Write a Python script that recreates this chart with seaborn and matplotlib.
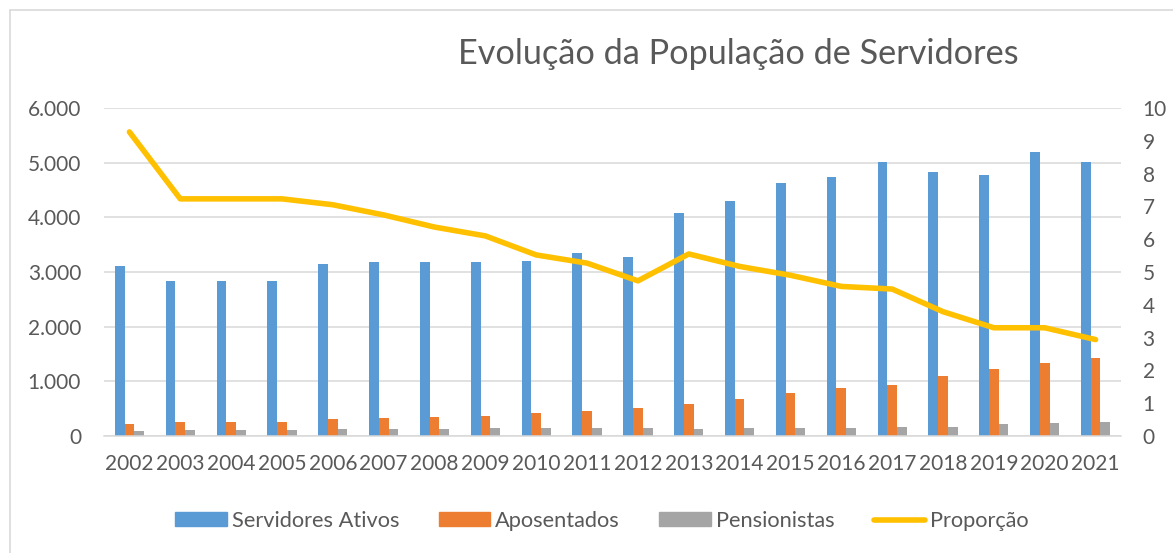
import numpy as np
import pandas as pd
import matplotlib
matplotlib.use("Agg")
import matplotlib.pyplot as plt
import seaborn as sns
from matplotlib.patches import Patch
from matplotlib.lines import Line2D
from matplotlib.ticker import FuncFormatter, MultipleLocator

anos = [str(a) for a in range(2002, 2022)]
servidores_ativos = [3110, 2835, 2835, 2835, 3145, 3190, 3180, 3180, 3205, 3350,
                     3275, 4085, 4290, 4620, 4730, 5020, 4830, 4770, 5195, 5005]
aposentados = [228, 262, 262, 262, 305, 330, 342, 360, 415, 463,
               519, 580, 672, 782, 879, 940, 1099, 1221, 1331, 1434]
pensionistas = [92, 110, 110, 110, 128, 130, 135, 140, 140, 150,
                150, 135, 140, 146, 146, 158, 171, 213, 232, 250]
proporcao = [9.27, 7.23, 7.23, 7.23, 7.05, 6.74, 6.37, 6.10, 5.52, 5.27,
             4.73, 5.55, 5.17, 4.90, 4.56, 4.48, 3.79, 3.30, 3.30, 2.94]
series = ["Servidores Ativos", "Aposentados", "Pensionistas"]
titulo = "Evolução da População de Servidores"

cores = {"Servidores Ativos": "#5B9BD5", "Aposentados": "#ED7D31", "Pensionistas": "#A5A5A5"}
cor_linha = "#FFC000"
cor_texto = "#595959"
cor_grade = "#D9D9D9"

sns.set_theme(style="white")
plt.rcParams["font.family"] = ["Lato", "DejaVu Sans"]

df = pd.DataFrame({
    "Ano": anos * 3,
    "Valor": servidores_ativos + aposentados + pensionistas,
    "Série": [s for s in series for _ in anos],
})

W, H = 1173, 553
fig = plt.figure(figsize=(W / 100, H / 100), dpi=100)
ax = fig.add_axes([104 / W, 1 - 436 / H, (1121 - 104) / W, (436 - 108) / H])

sns.barplot(data=df, x="Ano", y="Valor", hue="Série", palette=cores,
            width=0.575, gap=0, ax=ax, legend=False, linewidth=0, saturation=1)

tick_fs = 15
ax.set_xlim(-0.5, len(anos) - 0.5)
ax.set_ylim(0, 6000)
ax.yaxis.set_major_locator(MultipleLocator(1000))
ax.yaxis.set_major_formatter(FuncFormatter(lambda v, p: f"{int(v):,}".replace(",", ".")))
ax.set_axisbelow(True)
ax.grid(axis="y", color=cor_grade, lw=1.1)
ax.set_xlabel("")
ax.set_ylabel("")
for s in ["top", "right", "left"]:
    ax.spines[s].set_visible(False)
ax.spines["bottom"].set_color(cor_grade)
ax.spines["bottom"].set_linewidth(1.1)
ax.tick_params(axis="y", length=0, pad=16.5, labelsize=tick_fs, labelcolor=cor_texto)
ax.tick_params(axis="x", length=0, pad=13, labelsize=tick_fs, labelcolor=cor_texto)

ax2 = ax.twinx()
sns.lineplot(x=np.arange(len(anos)), y=proporcao, ax=ax2, color=cor_linha, lw=4,
             solid_capstyle="round", solid_joinstyle="round")
ax2.set_xlim(-0.5, len(anos) - 0.5)
ax2.set_ylim(0, 10)
ax2.yaxis.set_major_locator(MultipleLocator(1))
for s in ["top", "right", "left", "bottom"]:
    ax2.spines[s].set_visible(False)
ax2.tick_params(axis="y", length=0, pad=15.5, labelsize=tick_fs, labelcolor=cor_texto)
ax2.set_ylabel("")

fig.text(738 / W, 1 - 64 / H, titulo, ha="center", va="baseline",
         fontsize=24.7, color=cor_texto)

handles = [Patch(color=cores[s], label=s) for s in series]
handles.append(Line2D([0], [0], color=cor_linha, lw=4, label="Proporção",
                      solid_capstyle="round"))
fig.legend(handles=handles, loc="center", bbox_to_anchor=(602 / W, 1 - 521 / H),
           ncol=4, frameon=False, fontsize=15.7, labelcolor=cor_texto,
           handlelength=2.36, handleheight=0.61, handletextpad=0.23,
           columnspacing=1.81, borderpad=0)

# chart area border (top and left edges visible)
fig.add_artist(Line2D([10 / W, 1.0], [1 - 10 / H, 1 - 10 / H],
                      transform=fig.transFigure, color=cor_grade, lw=1.2))
fig.add_artist(Line2D([10 / W, 10 / W], [0.0, 1 - 10 / H],
                      transform=fig.transFigure, color=cor_grade, lw=1.2))

fig.savefig("out.png", dpi=100, facecolor="white")
